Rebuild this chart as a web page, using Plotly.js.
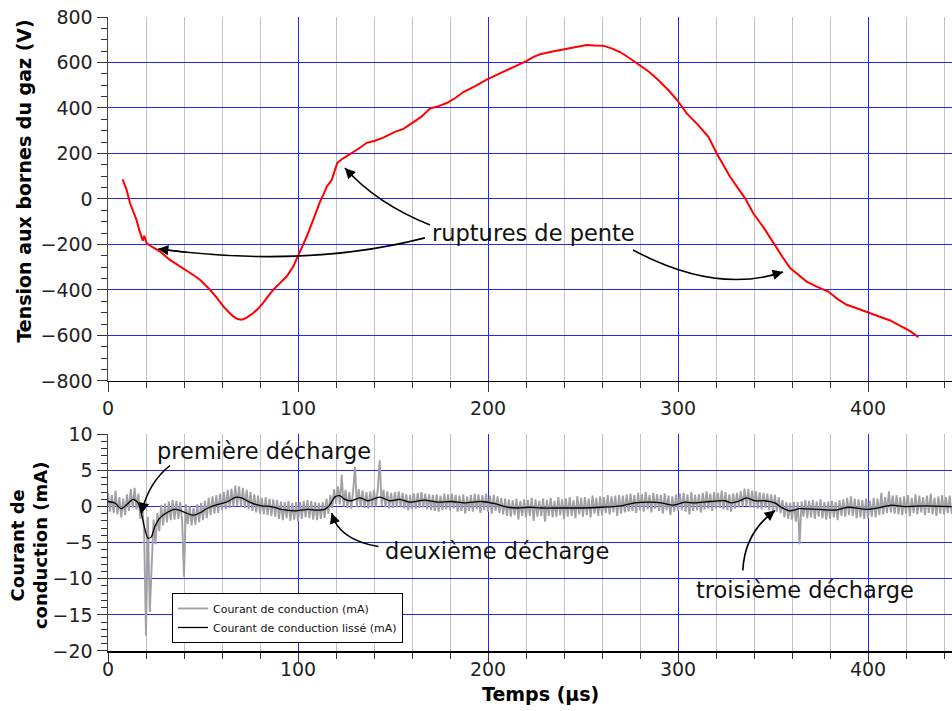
<!DOCTYPE html>
<html>
<head>
<meta charset="utf-8">
<script src="https://cdn.plot.ly/plotly-3.0.1.min.js"></script>
<style>html,body{margin:0;padding:0;background:#fff;}#chart{width:952px;height:711px;}</style>
</head>
<body>
<div id="chart"></div>
<script>
// ---- Tension aux bornes du gaz (V) ----
var tTension = [7.7, 9.8, 11.6, 13.3, 15, 16.6, 18.3, 19.1, 20.4, 23.5, 27.4, 32.6, 36.5, 40.5, 44.5, 48.4, 53.7, 57.3, 60.7, 63.5, 65.9, 68.2, 70.4, 73.2, 76.5, 79.2, 81.7, 84.5, 87, 90.5, 94, 97.5, 100.4, 102.5, 104.6, 108, 110, 111.6, 113.4, 115.1, 117.7, 119.5, 120.7, 124, 127.4, 132, 136.2, 140.5, 144.9, 151, 155.5, 159.8, 165, 169.5, 174, 178.3, 183, 187, 193, 199.3, 205, 209.8, 215, 220.4, 224, 227.4, 234, 241.4, 246, 251.9, 256, 260.7, 265, 269.5, 274, 278.3, 282, 284.9, 290, 295, 299.6, 304.6, 310, 316, 320.4, 327.4, 335.3, 339.6, 345, 350.2, 355, 359, 363, 367.7, 373, 379.1, 384, 388.8, 394, 399.3, 405, 411.6, 418, 422, 426.5];
var vTension = [86, 40, -19, -55, -92, -140, -183, -162, -195, -212, -231, -268, -288, -311, -332, -355, -399, -435, -472, -497, -516, -528, -531, -520, -501, -480, -457, -425, -399, -370, -341, -297, -246, -205, -165, -92, -45, -12, 20, 54, 83, 127, 159, 180, 197, 222, 247, 256, 270, 295, 308, 332, 362, 398, 408, 422, 445, 470, 495, 525, 548, 566, 585, 607, 625, 636, 648, 661, 669, 677, 675, 674, 662, 646, 622, 598, 575, 558, 520, 478, 434, 376, 330, 273, 200, 98, 3, -63, -125, -194, -255, -304, -330, -363, -385, -407, -440, -465, -480, -497, -512, -534, -562, -580, -607];

// ---- Courant de conduction (mA), one sample per µs from t = 0 ----
var iRaw = [
 1.9,-0.7,1.6,-0.9,2.2,-1.1,1.3,-1.5,1.1,-1.2,
 1.7,-0.6,2.4,-0.2,2.6,-0.4,1.8,-1.7,0.1,-3.2,
 -17.9,-1.4,-14.6,-7.4,-1.8,-5.2,-0.9,-3.4,0.2,-2.6,
 0.4,-2.2,0.7,-1.9,0.9,-1.8,0.8,-1.7,0.6,-1.9,
 -9.7,0.3,-2.4,0.1,-2.6,-0.2,-2.5,0.3,-2.2,0.5,
 -1.9,0.8,-1.6,1.2,-1.2,1.4,-1.0,1.6,-0.9,1.8,
 -0.5,2.0,-0.4,2.3,-0.2,2.5,0.0,2.9,0.1,2.8,
 0.0,2.6,-0.2,2.3,-0.4,2.0,-0.6,1.7,-0.8,1.5,
 -1.0,1.2,-1.1,1.3,-1.2,1.1,-1.3,1.0,-1.4,0.9,
 -1.7,0.7,-1.9,0.6,-1.6,0.8,-2.0,0.5,-1.8,0.6,
 -2.0,0.6,-1.7,0.8,-1.5,0.9,-1.6,0.8,-1.8,0.6,
 -1.9,0.5,-1.7,0.6,-1.6,1.1,-1.0,1.6,-0.2,2.4,
 0.4,2.8,0.3,4.4,0.0,2.3,-0.2,2.0,-0.3,2.1,
 5.5,-0.1,2.4,0.0,2.2,-0.2,2.0,-0.3,2.1,-0.1,
 2.3,0.0,2.5,6.4,0.1,2.3,-0.1,2.1,-0.3,1.9,
 -0.2,2.0,-0.1,2.1,0.0,1.9,-0.3,1.7,-0.5,1.6,
 -0.4,1.8,-0.3,1.9,-0.2,2.0,-0.1,1.8,-0.4,1.7,
 -0.5,1.6,-0.6,1.7,-0.7,1.5,-0.5,1.8,-0.4,1.7,
 -0.5,1.8,-0.3,1.6,-0.7,1.5,-0.6,1.7,-1.0,1.4,
 -0.6,1.6,-0.7,1.8,-0.4,1.7,-0.9,1.6,-0.5,1.8,
 -0.7,1.5,-1.0,1.6,-0.6,1.4,-0.9,1.2,-1.1,1.1,
 -1.3,1.0,-1.4,0.9,-1.2,1.1,-1.8,0.8,-1.3,1.0,
 -1.5,0.9,-1.3,1.2,-2.0,1.0,-1.4,0.8,-1.3,1.1,
 -2.1,0.9,-1.3,1.2,-1.5,0.8,-1.4,1.3,-1.2,1.0,
 -1.7,1.1,-1.4,1.3,-1.3,0.9,-1.6,1.4,-1.1,1.2,
 -1.4,1.3,-1.2,1.1,-1.5,1.5,-1.0,1.2,-1.3,1.4,
 -1.2,1.3,-0.9,1.6,-1.1,1.4,-0.8,1.5,-1.3,1.6,
 -1.0,1.5,-0.8,1.7,-0.7,1.8,-0.6,1.6,-0.9,1.9,
 -0.5,1.7,-0.7,2.0,-0.4,1.6,-0.8,1.9,-0.3,1.7,
 -0.6,1.6,-1.0,1.8,-0.5,1.5,-1.2,1.4,-0.7,1.7,
 -0.6,1.8,-0.5,1.9,-0.7,1.7,-1.1,2.0,-0.6,1.6,
 -0.5,1.7,-0.8,1.9,-0.4,2.1,-0.3,1.8,-0.6,2.0,
 -0.3,1.9,-0.2,2.2,-0.4,2.0,-0.5,1.7,-0.7,1.8,
 -0.3,1.9,-0.1,2.1,0.0,2.5,0.1,2.4,-0.1,2.2,
 -0.2,2.1,-0.3,2.0,-0.4,1.9,-0.2,1.8,-0.5,1.7,
 -0.6,1.6,-0.7,1.3,-0.9,0.9,-1.5,0.6,-1.7,0.5,
 -1.8,0.6,-2.1,0.6,-5.2,0.7,-1.4,0.9,-1.6,0.8,
 -1.5,0.9,-1.7,0.7,-1.4,1.0,-1.6,0.6,-1.8,0.7,
 -1.7,0.8,-1.5,0.6,-1.9,0.9,-1.3,1.0,-1.4,1.2,
 -1.2,1.4,-1.3,1.1,-1.6,1.0,-1.5,0.9,-1.7,1.1,
 -1.6,0.8,-1.4,1.2,-1.5,1.1,-1.2,1.9,-1.1,1.3,
 -0.9,2.1,-0.8,1.5,-1.0,1.6,-1.1,1.3,-1.2,1.4,
 -1.0,1.6,-1.3,1.2,-0.9,1.7,-1.1,1.5,-0.8,1.3,
 -1.2,1.5,-0.9,1.8,-1.1,1.2,-1.3,1.4,-1.0,1.6,
 -1.1,1.3,-0.9,1.5,-1.0
];

// ---- Courant de conduction lissé (mA) ----
var tSmooth = [0, 3.5, 7, 9.6, 13.2, 15.8, 17.5, 19.3, 21, 22.8, 24.6, 27.2, 30.7, 35.1, 37.7, 41.2, 44.7, 48.2, 52.6, 57.9, 62.3, 67.5, 70.2, 75.4, 80.7, 85.9, 91.2, 98.2, 105.3, 110.5, 114, 116.7, 119.3, 121.9, 124.6, 128.1, 132.5, 136.8, 143, 148.3, 153.5, 158.8, 166.7, 173.7, 180.7, 187.7, 196.5, 203.5, 210.5, 215.8, 222, 228, 238.6, 249, 259.6, 270, 277.2, 285.9, 291.2, 297.4, 303.5, 308.8, 316.7, 324.6, 328.1, 332.5, 336, 340.4, 345.6, 350.9, 354.4, 358.8, 364, 373.7, 382.5, 389.5, 400, 407, 412.3, 419.3, 429.8, 444];
var iSmooth = [0.7, 0.5, -0.3, 0.2, 1.0, 0.5, -0.9, -3.0, -4.4, -4.2, -2.8, -1.6, -0.9, -0.4, -0.5, -0.9, -1.2, -0.9, -0.2, 0.3, 0.6, 1.3, 1.2, 0.5, 0.1, 0.0, -0.4, -0.6, -0.4, -0.5, -0.4, 0.2, 1.3, 1.5, 1.0, 0.8, 1.2, 0.8, 1.3, 0.8, 1.0, 0.6, 0.9, 0.6, 0.7, 0.5, 0.7, 0.4, -0.1, -0.2, -0.1, -0.2, -0.2, -0.2, -0.1, 0.1, 0.5, 0.6, 0.5, 0.2, 0.6, 0.5, 0.7, 0.8, 0.5, 0.8, 1.2, 0.8, 0.8, 0.5, -0.1, -0.6, -0.3, -0.4, -0.5, -0.1, -0.4, -0.1, 0.2, 0.0, 0.1, 0.0];

// ---- Labels ----
var yTitleTop = 'Tension aux bornes du gaz (V)';
var yTitleBottom = 'Courant de<br>conduction (mA)';
var xTitle = 'Temps (µs)';
var rawName = 'Courant de conduction (mA)';
var smoothName = 'Courant de conduction lissé (mA)';
var noteRupture = 'ruptures de pente';
var noteD1 = 'première décharge';
var noteD2 = 'deuxième décharge';
var noteD3 = 'troisième décharge';

var FONT = 'DejaVu Sans, Verdana, sans-serif';
var BLUE = '#2424ff';
var MINOR = '#c2c2c2';

var traces = [
  {x: tTension, y: vTension, xaxis: 'x', yaxis: 'y', type: 'scatter', mode: 'lines',
   line: {color: '#ff0000', width: 2}, showlegend: false, hoverinfo: 'skip'},
  {x0: 0, dx: 1, y: iRaw, xaxis: 'x2', yaxis: 'y2', type: 'scatter', mode: 'lines',
   name: rawName, line: {color: '#a0a0a5', width: 1.9}},
  {x: tSmooth, y: iSmooth, xaxis: 'x2', yaxis: 'y2', type: 'scatter', mode: 'lines',
   name: smoothName, line: {color: '#000000', width: 1.3, shape: 'spline', smoothing: 0.7}}
];

function xAx(anchor, standoff) {
  return {
    anchor: anchor, domain: [0, 1], range: [0, 444.2], dtick: 100, tick0: 0,
    ticks: 'outside', ticklen: 10, tickwidth: 1, tickcolor: '#333',
    ticklabelstandoff: standoff,
    showline: true, linecolor: '#000', linewidth: 1.5,
    showgrid: true, gridcolor: BLUE, gridwidth: 1, zeroline: false,
    tickfont: {family: FONT, size: 19, color: '#222'},
    minor: {dtick: 20, tick0: 0, ticks: 'outside', ticklen: 6, tickcolor: '#333',
            showgrid: true, gridcolor: MINOR, gridwidth: 1}
  };
}
function yAx(domain, range, dtick, mdtick) {
  return {
    anchor: domain === 'top' ? 'x' : 'x2',
    domain: domain === 'top' ? [0.4259, 1] : [0, 0.3418],
    range: range, dtick: dtick, tick0: 0,
    ticks: 'outside', ticklen: 10, tickwidth: 1, tickcolor: '#333',
    showline: true, linecolor: '#444', linewidth: 1.5,
    showgrid: true, gridcolor: BLUE, gridwidth: 1, zeroline: false,
    tickfont: {family: FONT, size: 19, color: '#222'},
    minor: {dtick: mdtick, tick0: 0, ticks: 'outside', ticklen: 6, tickcolor: '#333', showgrid: false}
  };
}

// quadratic curves for the curved arrows (data coordinates of their own axes)
var curves = [
  {xr: 'x', yr: 'y', p0: [166.8, -171], c: [105, -305.6], p2: [26.3, -219.8]},
  {xr: 'x', yr: 'y', p0: [169.5, -114.3], c: [141.3, -19.8], p2: [124.7, 136.3]},
  {xr: 'x', yr: 'y', p0: [276.3, -224.2], c: [320, -419.8], p2: [355.3, -320.9]},
  {xr: 'x2', yr: 'y2', p0: [32.6, 5.68], c: [20.8, 3.16], p2: [17.7, -0.93]},
  {xr: 'x2', yr: 'y2', p0: [142.3, -5.54], c: [121.3, -4.61], p2: [117.7, -0.91]},
  {xr: 'x2', yr: 'y2', p0: [334.1, -8.86], c: [335.0, -3.6], p2: [351.1, -0.55]}
];
var shapes = [], annotations = [];
curves.forEach(function (cv) {
  shapes.push({type: 'path', xref: cv.xr, yref: cv.yr,
    path: 'M' + cv.p0[0] + ',' + cv.p0[1] + ' Q' + cv.c[0] + ',' + cv.c[1] + ' ' + cv.p2[0] + ',' + cv.p2[1],
    line: {color: '#000', width: 1.6}});
  var s = 0.9;
  var bx = (1 - s) * (1 - s) * cv.p0[0] + 2 * (1 - s) * s * cv.c[0] + s * s * cv.p2[0];
  var by = (1 - s) * (1 - s) * cv.p0[1] + 2 * (1 - s) * s * cv.c[1] + s * s * cv.p2[1];
  annotations.push({xref: cv.xr, yref: cv.yr, x: cv.p2[0], y: cv.p2[1], axref: cv.xr, ayref: cv.yr,
    ax: bx, ay: by, text: '', showarrow: true, arrowhead: 2, arrowsize: 1.3, arrowwidth: 1.6, arrowcolor: '#000'});
});

function note(txt, xr, yr, x, y) {
  return {xref: xr, yref: yr, x: x, y: y, text: txt, showarrow: false,
          font: {family: FONT, size: 22.5, color: '#111'}, xanchor: 'center', yanchor: 'middle'};
}
annotations.push(note(noteRupture, 'x', 'y', 224.2, -149.5));
annotations.push(note(noteD1, 'x2', 'y2', 82.1, 7.7));
annotations.push(note(noteD2, 'x2', 'y2', 204.5, -6.15));
annotations.push(note(noteD3, 'x2', 'y2', 366.6, -11.5));

// axis titles
annotations.push({xref: 'paper', yref: 'paper', x: -0.1, y: 0.7413, text: '<b>' + yTitleTop + '</b>',
  textangle: -90, showarrow: false, xanchor: 'center', yanchor: 'middle',
  font: {family: FONT, size: 19, color: '#000'}});
annotations.push({xref: 'paper', yref: 'paper', x: -0.0936, y: 0.167, text: '<b>' + yTitleBottom + '</b>',
  textangle: -90, showarrow: false, xanchor: 'center', yanchor: 'middle',
  font: {family: FONT, size: 18, color: '#000'}});
annotations.push({xref: 'paper', yref: 'paper', x: 0.513, y: 0, yshift: -43, text: '<b>' + xTitle + '</b>',
  showarrow: false, xanchor: 'center', yanchor: 'middle',
  font: {family: FONT, size: 19, color: '#000'}});

var layout = {
  width: 952, height: 711,
  margin: {l: 108, r: 0, t: 17, b: 60, pad: 0},
  paper_bgcolor: '#fff', plot_bgcolor: '#fff',
  font: {family: FONT},
  xaxis: xAx('y', 0),
  yaxis: yAx('top', [-800, 800], 200, 50),
  xaxis2: xAx('y2', -9),
  yaxis2: yAx('bottom', [-20, 10], 5, 1),
  showlegend: true,
  legend: {x: 0.0758, y: 0.0915, xanchor: 'left', yanchor: 'top', bgcolor: '#fff',
           bordercolor: '#000', borderwidth: 1, font: {family: FONT, size: 11, color: '#111'},
           itemwidth: 30, tracegroupgap: 0},
  shapes: shapes,
  annotations: annotations
};

Plotly.newPlot('chart', traces, layout, {displayModeBar: false, staticPlot: true});
</script>
</body>
</html>
